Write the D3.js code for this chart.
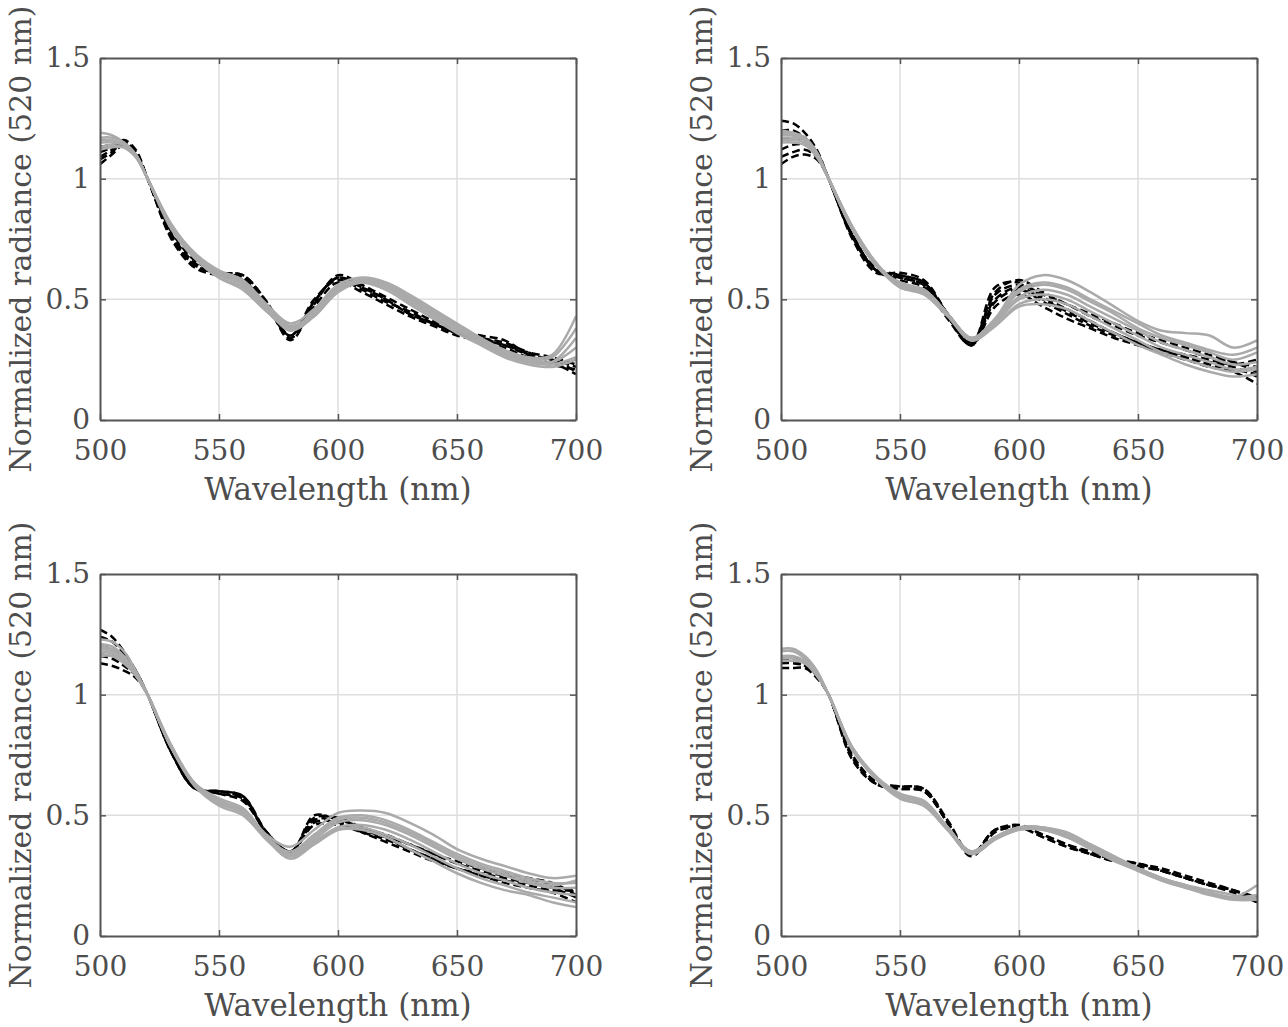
<!DOCTYPE html>
<html>
<head>
<meta charset="utf-8">
<script src="https://cdn.jsdelivr.net/npm/d3@7"></script>
<style>
  body { margin: 0; background: #fff; }
  svg text { font-family: "DejaVu Serif", Georgia, serif; fill: #4d4d4d; }
</style>
</head>
<body>
<div id="chart"></div>
<script>
// wavelengths (nm)
const wavelengths = [500,505,510,515,520,530,540,550,560,570,580,590,600,610,620,630,640,650,660,670,680,690,700];
const xTicks = [500, 550, 600, 650, 700];
const yTicks = [0, 0.5, 1, 1.5];
const yTickLabels = ["0", "0.5", "1", "1.5"];

// top-left panel
const tlDashed = [
  [1.06,1.10,1.14,1.10,1.00,0.75,0.63,0.60,0.59,0.48,0.34,0.49,0.59,0.55,0.50,0.44,0.40,0.36,0.34,0.32,0.28,0.24,0.19],
  [1.09,1.12,1.15,1.11,1.00,0.76,0.64,0.61,0.60,0.49,0.33,0.48,0.60,0.56,0.51,0.46,0.41,0.37,0.35,0.33,0.27,0.23,0.21],
  [1.11,1.13,1.16,1.12,1.00,0.77,0.65,0.60,0.58,0.47,0.35,0.50,0.58,0.54,0.49,0.45,0.40,0.36,0.33,0.31,0.27,0.25,0.22],
  [1.13,1.14,1.14,1.10,1.00,0.78,0.66,0.61,0.59,0.48,0.34,0.47,0.57,0.53,0.48,0.43,0.39,0.35,0.33,0.30,0.26,0.25,0.20],
  [1.08,1.11,1.15,1.11,1.00,0.76,0.64,0.61,0.60,0.49,0.35,0.49,0.59,0.55,0.50,0.44,0.40,0.36,0.34,0.31,0.28,0.26,0.23]
];
const tlSolid = [
  [1.19,1.18,1.15,1.10,1.00,0.80,0.67,0.59,0.55,0.45,0.38,0.45,0.55,0.58,0.56,0.51,0.45,0.39,0.33,0.28,0.25,0.24,0.30],
  [1.17,1.17,1.15,1.10,1.00,0.80,0.67,0.59,0.54,0.45,0.38,0.44,0.55,0.58,0.57,0.52,0.46,0.40,0.34,0.29,0.26,0.27,0.43],
  [1.15,1.15,1.14,1.10,1.00,0.81,0.68,0.61,0.57,0.47,0.39,0.44,0.54,0.58,0.56,0.50,0.44,0.38,0.32,0.27,0.24,0.23,0.26],
  [1.13,1.14,1.13,1.09,1.00,0.80,0.68,0.60,0.56,0.46,0.37,0.43,0.53,0.57,0.55,0.49,0.43,0.37,0.32,0.27,0.24,0.24,0.34],
  [1.12,1.13,1.13,1.09,1.00,0.79,0.67,0.61,0.57,0.47,0.38,0.43,0.54,0.57,0.54,0.48,0.42,0.36,0.31,0.26,0.23,0.22,0.25],
  [1.16,1.16,1.14,1.10,1.00,0.81,0.69,0.62,0.58,0.48,0.40,0.46,0.56,0.59,0.57,0.51,0.45,0.39,0.33,0.28,0.25,0.26,0.38]
];

// top-right panel
const trDashed = [
  [1.24,1.23,1.19,1.12,1.00,0.76,0.62,0.60,0.57,0.43,0.31,0.53,0.58,0.53,0.48,0.44,0.40,0.36,0.33,0.30,0.27,0.24,0.20],
  [1.06,1.09,1.10,1.08,1.00,0.75,0.61,0.61,0.58,0.44,0.31,0.55,0.57,0.51,0.46,0.41,0.36,0.32,0.28,0.25,0.22,0.20,0.15],
  [1.12,1.14,1.14,1.10,1.00,0.77,0.62,0.59,0.56,0.43,0.32,0.50,0.55,0.50,0.45,0.40,0.36,0.32,0.29,0.26,0.24,0.22,0.18],
  [1.20,1.20,1.17,1.11,1.00,0.76,0.62,0.58,0.55,0.42,0.31,0.47,0.52,0.47,0.42,0.38,0.34,0.31,0.28,0.26,0.23,0.21,0.19],
  [1.09,1.11,1.12,1.09,1.00,0.76,0.63,0.60,0.57,0.44,0.32,0.52,0.56,0.52,0.48,0.43,0.39,0.35,0.32,0.29,0.26,0.24,0.22],
  [1.16,1.17,1.16,1.11,1.00,0.77,0.62,0.59,0.56,0.43,0.31,0.49,0.54,0.49,0.44,0.39,0.35,0.32,0.29,0.27,0.25,0.23,0.25]
];
const trSolid = [
  [1.20,1.19,1.17,1.11,1.00,0.79,0.64,0.57,0.54,0.44,0.34,0.42,0.56,0.60,0.58,0.53,0.47,0.41,0.37,0.36,0.35,0.30,0.33],
  [1.19,1.19,1.17,1.11,1.00,0.79,0.64,0.56,0.54,0.44,0.34,0.41,0.53,0.56,0.54,0.49,0.44,0.38,0.34,0.31,0.28,0.25,0.28],
  [1.18,1.18,1.16,1.10,1.00,0.80,0.65,0.56,0.53,0.44,0.34,0.41,0.51,0.54,0.52,0.47,0.42,0.37,0.32,0.29,0.26,0.23,0.24],
  [1.17,1.17,1.16,1.10,1.00,0.79,0.64,0.55,0.53,0.44,0.33,0.40,0.50,0.52,0.50,0.45,0.40,0.35,0.30,0.27,0.24,0.21,0.22],
  [1.16,1.16,1.15,1.10,1.00,0.80,0.65,0.55,0.53,0.44,0.33,0.39,0.48,0.50,0.48,0.43,0.38,0.33,0.28,0.25,0.22,0.20,0.21],
  [1.15,1.15,1.14,1.09,1.00,0.80,0.65,0.55,0.52,0.43,0.33,0.39,0.47,0.48,0.46,0.41,0.36,0.31,0.27,0.23,0.20,0.18,0.19],
  [1.19,1.18,1.16,1.10,1.00,0.79,0.64,0.56,0.54,0.44,0.34,0.42,0.54,0.57,0.55,0.50,0.45,0.40,0.35,0.32,0.29,0.27,0.30]
];

// bottom-left panel
const blDashed = [
  [1.27,1.24,1.18,1.10,1.00,0.76,0.61,0.60,0.58,0.43,0.34,0.50,0.48,0.44,0.41,0.38,0.34,0.30,0.27,0.25,0.23,0.21,0.18],
  [1.13,1.12,1.10,1.07,1.00,0.76,0.61,0.60,0.57,0.43,0.35,0.48,0.48,0.45,0.41,0.36,0.32,0.28,0.25,0.22,0.20,0.18,0.14],
  [1.20,1.19,1.15,1.09,1.00,0.77,0.62,0.59,0.57,0.43,0.35,0.46,0.46,0.43,0.40,0.36,0.32,0.28,0.26,0.24,0.22,0.20,0.16],
  [1.24,1.22,1.17,1.10,1.00,0.76,0.61,0.60,0.58,0.42,0.34,0.47,0.47,0.43,0.39,0.35,0.31,0.28,0.25,0.23,0.21,0.19,0.19],
  [1.16,1.15,1.12,1.08,1.00,0.77,0.62,0.59,0.56,0.43,0.35,0.49,0.49,0.45,0.42,0.38,0.34,0.31,0.28,0.26,0.24,0.22,0.17]
];
const blSolid = [
  [1.23,1.22,1.18,1.10,1.00,0.78,0.63,0.57,0.53,0.42,0.37,0.44,0.51,0.52,0.51,0.47,0.42,0.36,0.32,0.29,0.26,0.24,0.25],
  [1.21,1.20,1.16,1.09,1.00,0.78,0.63,0.56,0.52,0.41,0.35,0.42,0.49,0.50,0.48,0.44,0.39,0.34,0.30,0.27,0.24,0.22,0.22],
  [1.19,1.18,1.15,1.09,1.00,0.79,0.63,0.56,0.52,0.41,0.34,0.40,0.47,0.48,0.46,0.42,0.37,0.32,0.28,0.25,0.22,0.20,0.20],
  [1.18,1.17,1.14,1.08,1.00,0.78,0.62,0.55,0.51,0.40,0.33,0.39,0.45,0.46,0.44,0.40,0.35,0.30,0.26,0.23,0.20,0.18,0.17],
  [1.17,1.16,1.14,1.08,1.00,0.78,0.62,0.55,0.51,0.40,0.33,0.38,0.44,0.45,0.42,0.38,0.33,0.28,0.24,0.21,0.18,0.16,0.14],
  [1.16,1.16,1.13,1.08,1.00,0.78,0.62,0.54,0.50,0.40,0.32,0.38,0.44,0.44,0.41,0.36,0.31,0.26,0.22,0.19,0.17,0.14,0.12],
  [1.20,1.19,1.15,1.09,1.00,0.78,0.63,0.56,0.52,0.41,0.34,0.41,0.48,0.49,0.47,0.43,0.38,0.33,0.29,0.26,0.23,0.21,0.23]
];

// bottom-right panel
const brDashed = [
  [1.11,1.11,1.11,1.07,1.00,0.73,0.63,0.62,0.61,0.47,0.34,0.44,0.45,0.41,0.37,0.34,0.31,0.30,0.27,0.24,0.21,0.19,0.14],
  [1.13,1.13,1.12,1.08,1.00,0.74,0.63,0.61,0.60,0.47,0.33,0.43,0.45,0.42,0.38,0.35,0.32,0.30,0.28,0.25,0.22,0.19,0.15],
  [1.15,1.15,1.13,1.08,1.00,0.75,0.64,0.62,0.61,0.48,0.34,0.44,0.46,0.42,0.38,0.34,0.32,0.29,0.27,0.24,0.21,0.18,0.14],
  [1.14,1.14,1.12,1.08,1.00,0.74,0.63,0.61,0.60,0.47,0.34,0.44,0.45,0.41,0.37,0.34,0.31,0.30,0.27,0.24,0.21,0.19,0.16]
];
const brSolid = [
  [1.19,1.19,1.16,1.10,1.00,0.78,0.66,0.58,0.56,0.45,0.35,0.41,0.45,0.45,0.43,0.38,0.33,0.28,0.24,0.21,0.18,0.16,0.21],
  [1.18,1.18,1.15,1.09,1.00,0.78,0.66,0.58,0.55,0.45,0.35,0.41,0.45,0.45,0.42,0.38,0.33,0.28,0.24,0.21,0.18,0.16,0.17],
  [1.16,1.16,1.14,1.09,1.00,0.78,0.66,0.59,0.56,0.45,0.35,0.41,0.45,0.45,0.42,0.37,0.32,0.28,0.24,0.21,0.19,0.17,0.15],
  [1.15,1.15,1.13,1.08,1.00,0.78,0.65,0.57,0.54,0.44,0.34,0.40,0.44,0.44,0.41,0.37,0.32,0.27,0.23,0.20,0.18,0.16,0.16],
  [1.14,1.14,1.13,1.08,1.00,0.77,0.65,0.57,0.54,0.44,0.34,0.40,0.44,0.44,0.41,0.36,0.31,0.27,0.23,0.20,0.17,0.15,0.15]
];

const W = 1288, H = 1027;
const width = 476, height = 362;
const panels = [
  { left: 100, top: 58, labelX: 31, dashed: tlDashed, solid: tlSolid },
  { left: 781, top: 58, labelX: 712, dashed: trDashed, solid: trSolid },
  { left: 100, top: 574, labelX: 31, dashed: blDashed, solid: blSolid },
  { left: 781, top: 574, labelX: 712, dashed: brDashed, solid: brSolid }
];

const svg = d3.select("#chart")
  .append("svg")
  .attr("width", W)
  .attr("height", H);

const x = d3.scaleLinear().domain([500, 700]).range([0, width]);
const y = d3.scaleLinear().domain([0, 1.5]).range([height, 0]);

const line = d3.line()
  .x((d, i) => x(wavelengths[i]))
  .y(d => y(d))
  .curve(d3.curveCatmullRom.alpha(0.5));

function drawPanel(p) {
  const g = svg.append("g")
    .attr("transform", `translate(${p.left}, ${p.top})`);

  // grid
  g.append("g")
    .selectAll("line")
    .data(xTicks.slice(1, -1))
    .enter()
    .append("line")
    .attr("x1", d => x(d)).attr("x2", d => x(d))
    .attr("y1", 0).attr("y2", height)
    .attr("stroke", "#dedede")
    .attr("stroke-width", 1.5);

  g.append("g")
    .selectAll("line")
    .data(yTicks.slice(1, -1))
    .enter()
    .append("line")
    .attr("x1", 0).attr("x2", width)
    .attr("y1", d => y(d)).attr("y2", d => y(d))
    .attr("stroke", "#dedede")
    .attr("stroke-width", 1.5);

  const clip = "clip" + p.left + "_" + p.top;
  g.append("clipPath").attr("id", clip)
    .append("rect").attr("width", width).attr("height", height);

  const lines = g.append("g").attr("clip-path", `url(#${clip})`);

  lines.selectAll(".dashed")
    .data(p.dashed)
    .enter()
    .append("path")
    .attr("class", "dashed")
    .attr("fill", "none")
    .attr("stroke", "#000")
    .attr("stroke-width", 2.5)
    .attr("stroke-dasharray", "8,4")
    .attr("d", line);

  lines.selectAll(".solid")
    .data(p.solid)
    .enter()
    .append("path")
    .attr("class", "solid")
    .attr("fill", "none")
    .attr("stroke", "#aaaaaa")
    .attr("stroke-width", 2.5)
    .attr("d", line);

  // axes box with inward ticks
  g.append("g")
    .attr("transform", `translate(0, ${height})`)
    .call(d3.axisBottom(x).tickValues(xTicks).tickSizeInner(-6).tickSizeOuter(0).tickPadding(20));
  g.append("g")
    .call(d3.axisLeft(y).tickValues(yTicks).tickFormat((d, i) => yTickLabels[i]).tickSizeInner(-6).tickSizeOuter(0).tickPadding(10));
  g.append("g")
    .call(d3.axisTop(x).tickValues(xTicks).tickFormat("").tickSizeInner(-6).tickSizeOuter(0));
  g.append("g")
    .attr("transform", `translate(${width}, 0)`)
    .call(d3.axisRight(y).tickValues(yTicks).tickFormat("").tickSizeInner(-6).tickSizeOuter(0));

  g.selectAll(".domain").attr("stroke", "#555").attr("stroke-width", 2);
  g.selectAll(".tick line").attr("stroke", "#555").attr("stroke-width", 1.5);
  g.selectAll(".tick text")
    .style("font-size", "28px")
    .style("font-family", "'DejaVu Serif', serif")
    .attr("fill", "#4d4d4d");

  g.append("text")
    .attr("x", width / 2)
    .attr("y", height + 80)
    .style("text-anchor", "middle")
    .style("font-size", "31px")
    .text("Wavelength (nm)");

  g.append("text")
    .attr("transform", "rotate(-90)")
    .attr("x", -height / 2)
    .attr("y", p.labelX - p.left)
    .style("text-anchor", "middle")
    .style("font-size", "30px")
    .text("Normalized radiance (520 nm)");
}

panels.forEach(drawPanel);
</script>
</body>
</html>
